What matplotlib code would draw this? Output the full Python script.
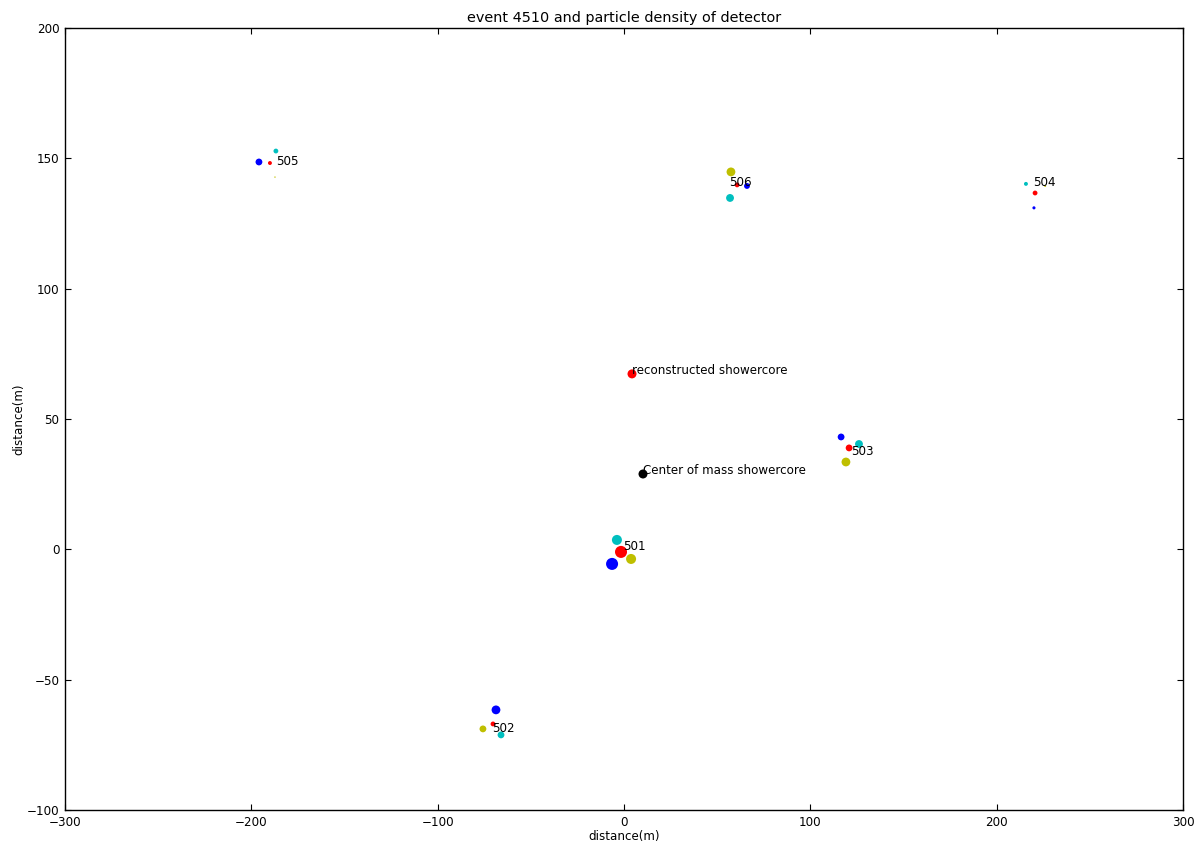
import matplotlib
matplotlib.use("Agg")
import matplotlib.pyplot as plt

# detector hits: x, y (m), colour, marker size (pt^2, ~ particle density)
det_x = [-195.9, -190.0, -186.8, -187.3,
         57.4, 60.7, 66.0, 56.9,
         215.7, 220.6, 220.0, 226.0,
         -3.8, -1.6, 3.8, -6.4,
         -68.7, -70.3, -75.7, -66.0,
         116.5, 126.1, 120.8, 119.1]
det_y = [148.6, 148.2, 152.8, 142.8,
         144.8, 139.8, 139.4, 134.8,
         140.2, 136.7, 131.0, 139.4,
         3.6, -1.0, -3.7, -5.6,
         -61.6, -67.0, -68.9, -71.2,
         43.1, 40.4, 38.9, 33.5]
det_c = ['b', 'r', 'c', 'y',
         'y', 'r', 'b', 'c',
         'c', 'r', 'b', 'y',
         'c', 'r', 'y', 'b',
         'b', 'r', 'y', 'c',
         'b', 'c', 'r', 'y']
det_s = [24, 8, 12, 1,
         40, 12, 18, 32,
         8, 12, 5, 2,
         52, 75, 52, 75,
         40, 12, 24, 24,
         24, 32, 24, 40]

station_names = ['505', '506', '504', '501', '502', '503']
station_tx = [-186.5, 56.4, 219.5, -0.5, -70.8, 121.8]
station_ty = [147.3, 139.3, 139.3, -0.2, -70.1, 36.1]

core_x = [4.3, 10.2]
core_y = [67.3, 28.9]
core_c = ['r', 'k']
core_labels = ['reconstructed showercore', 'Center of mass showercore']

FS = 8.6

fig = plt.figure(figsize=(12.03, 8.41), dpi=100)
ax = fig.add_axes([0.054, 0.0369, 0.9294, 0.9298])

ax.scatter(det_x, det_y, c=det_c, s=det_s, edgecolors='none', zorder=3)
for name, tx, ty in zip(station_names, station_tx, station_ty):
    ax.text(tx, ty, name, fontsize=FS, zorder=4)

ax.scatter(core_x, core_y, c=core_c, s=42, edgecolors='none', zorder=3)
for cx, cy, lab in zip(core_x, core_y, core_labels):
    ax.text(cx, cy, lab, fontsize=FS, zorder=4)

ax.set_xlim(-300, 300)
ax.set_ylim(-100, 200)
ax.set_xticks([-300, -200, -100, 0, 100, 200, 300])
ax.set_yticks([-100, -50, 0, 50, 100, 150, 200])
ax.tick_params(direction='in', length=4, labelsize=FS, top=True, right=True, pad=4)
ax.set_xlabel('distance(m)', fontsize=FS, labelpad=1)
ax.set_ylabel('distance(m)', fontsize=FS, labelpad=1)
ax.set_title('event 4510 and particle density of detector', fontsize=10.4, pad=4)
for sp in ax.spines.values():
    sp.set_linewidth(1.0)

fig.savefig('out.png', dpi=100)
